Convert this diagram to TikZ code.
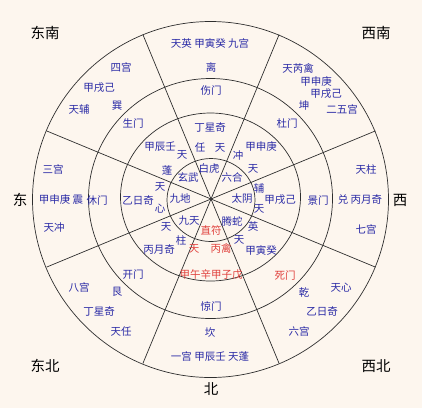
\documentclass[tikz,border=0pt]{standalone}
\usepackage{fontspec}
\setmainfont{Noto Sans CJK SC}
\usepackage{xcolor}
\usetikzlibrary{positioning}
\definecolor{paper}{HTML}{FDF6EE}
\definecolor{ink}{HTML}{2A2AA6}
\definecolor{cinnabar}{HTML}{E0403C}
\definecolor{rule}{HTML}{2E2E2E}
\tikzset{
  txt/.style={inner sep=0pt,text=ink,font=\fontsize{10.5}{12}\selectfont},
  hot/.style={txt,text=cinnabar},
  dir/.style={inner sep=0pt,text=black,font=\fontsize{14.5}{16}\selectfont},
  ring/.style={draw=rule,line width=0.7pt}
}
\begin{document}
\begin{tikzpicture}[x=1pt,y=-1pt]
  \fill[paper] (0,0) rectangle (422,408);
  \useasboundingbox (0,0) rectangle (422,408);
  \coordinate (hub) at (211,199);
  % rings and spokes
  \draw[ring] (210.5,199.5) circle[radius=178];
  \draw[ring] (210.5,198.5) ellipse[x radius=122,y radius=120];
  \draw[ring] (210.5,197) ellipse[x radius=90,y radius=84];
  \draw[ring] (211,200) ellipse[x radius=44,y radius=41.5];
  \foreach \a in {22.5,67.5,...,337.5} \draw[ring] (hub) -- ++(\a:178);
  % directions
  \node[dir] (dSE) at (45,33) {东南};
  \node[dir] (dSW) at (376,33) {西南};
  \node[dir] (dE) at (20,200) {东};
  \node[dir] (dW) at (400,200) {西};
  \node[dir] (dNE) at (45,366) {东北};
  \node[dir] (dNW) at (376,366) {西北};
  \node[dir] (dN) at (211,389) {北};
  % outer ring: palaces
  \node[txt] (liTop) at (210,43) {天英 甲寅癸 九宫};
  \node[txt] (liName) at (211,67) {离};
  \node[txt] (kunStar) at (298,68) {天芮禽};
  \node[txt] (kunA) at (316,82) {甲申庚};
  \node[txt] (kunB) at (326,94) {甲戌己};
  \node[txt] (kunName) at (304,106) {坤};
  \node[txt] (kunNum) at (342,109) {二五宫};
  \node[txt] (duiStar) at (366,169) {天柱};
  \node[txt] (duiName) at (360,200) {兑 丙月奇};
  \node[txt] (duiNum) at (366,229) {七宫};
  \node[txt] (qianStar) at (341,288) {天心};
  \node[txt] (qianName) at (304,292) {乾};
  \node[txt] (qianStem) at (322,311) {乙日奇};
  \node[txt] (qianNum) at (299,331) {六宫};
  \node[txt] (kanName) at (210,332) {坎};
  \node[txt] (kanBot) at (210,356) {一宫 甲辰壬 天蓬};
  \node[txt] (genNum) at (79,287) {八宫};
  \node[txt] (genName) at (117,292) {艮};
  \node[txt] (genStem) at (99,311) {丁星奇};
  \node[txt] (genStar) at (121,331) {天任};
  \node[txt] (zhenNum) at (53,169) {三宫};
  \node[txt] (zhenName) at (61,200) {甲申庚 震};
  \node[txt] (zhenStar) at (54,228) {天冲};
  \node[txt] (xunNum) at (121,67) {四宫};
  \node[txt] (xunStem) at (99,88) {甲戌己};
  \node[txt] (xunName) at (117,106) {巽};
  \node[txt] (xunStar) at (79,109) {天辅};
  % second ring: gates
  \node[txt] (gShang) at (211,91) {伤门};
  \node[txt] (gDu) at (287,123) {杜门};
  \node[txt] (gJing) at (318,200) {景门};
  \node[hot] (gSi) at (285,275) {死门};
  \node[txt] (gJing2) at (211,306) {惊门};
  \node[txt] (gKai) at (133,275) {开门};
  \node[txt] (gXiu) at (97,200) {休门};
  \node[txt] (gSheng) at (133,123) {生门};
  % third ring: stems and stars
  \node[txt] (sTop) at (210,127) {丁星奇};
  \node[txt] (sNW) at (160,147) {甲辰壬};
  \node[txt] (t1) at (182,155) {天};
  \node[txt] (t2) at (200,148) {任};
  \node[txt] (t3) at (220,148) {天};
  \node[txt] (t4) at (238,156) {冲};
  \node[txt] (sNE) at (261,147) {甲申庚};
  \node[txt] (t5) at (167,170) {蓬};
  \node[txt] (t6) at (253,169) {天};
  \node[txt] (t7) at (160,187) {天};
  \node[txt] (t8) at (259,188) {辅};
  \node[txt] (sW) at (138,200) {乙日奇};
  \node[txt] (sE) at (280,200) {甲戌己};
  \node[txt] (t9) at (160,209) {心};
  \node[txt] (t10) at (259,209) {天};
  \node[txt] (t11) at (166,227) {天};
  \node[txt] (t12) at (253,227) {英};
  \node[txt] (sSW) at (159,250) {丙月奇};
  \node[txt] (t13) at (181,240) {柱};
  \node[hot] (t14) at (194,249) {天};
  \node[hot] (t15) at (221,248) {丙禽};
  \node[txt] (t16) at (239,240) {天};
  \node[txt] (sSE) at (261,250) {甲寅癸};
  \node[hot] (sBot) at (211,275) {甲午辛甲子戊};
  % inner circle: spirits
  \node[txt] (bhu) at (209,168) {白虎};
  \node[txt] (xwu) at (188,177) {玄武};
  \node[txt] (lhe) at (232,177) {六合};
  \node[txt] (jdi) at (180,199) {九地};
  \node[txt] (tyin) at (242,199) {太阴};
  \node[txt] (jtian) at (189,221) {九天};
  \node[txt] (tshe) at (232,221) {腾蛇};
  \node[hot] (zfu) at (211,230) {直符};
\end{tikzpicture}
\end{document}
